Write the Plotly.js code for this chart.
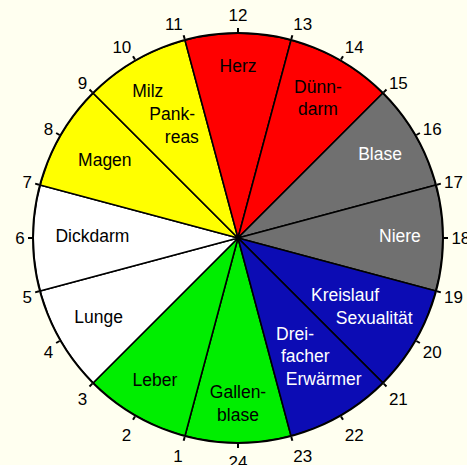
<!DOCTYPE html>
<html>
<head>
<meta charset="utf-8">
<script src="https://cdn.plot.ly/plotly-3.0.1.min.js"></script>
<style>html,body{margin:0;padding:0;background:#fffff0;}#chart{width:467px;height:465px;}</style>
</head>
<body>
<div id="chart"></div>
<script>
// ---- data ----
const organs = ['Gallen-<br>blase', 'Leber', 'Lunge', 'Dickdarm', 'Magen',
  'Milz\u00a0\u00a0\u00a0\u00a0\u00a0\u00a0\u00a0\u00a0<br>\u00a0\u00a0Pank-<br>\u00a0\u00a0\u00a0\u00a0\u00a0\u00a0reas',
  'Herz', 'Dünn-<br>darm', 'Blase', 'Niere',
  'Kreislauf\u00a0\u00a0\u00a0\u00a0\u00a0\u00a0<br>\u00a0\u00a0\u00a0\u00a0\u00a0\u00a0Sexualität',
  'Drei-<br>\u00a0facher<br>\u00a0\u00a0Erwärmer'];
const startHour = [23, 1, 3, 5, 7, 9, 11, 13, 15, 17, 19, 21];
const durationHours = [2, 2, 2, 2, 2, 2, 2, 2, 2, 2, 2, 2];
const hourTickLabels = ['24','1','2','3','4','5','6','7','8','9','10','11',
  '12','13','14','15','16','17','18','19','20','21','22','23'];

// ---- styles / label placement ----
const sliceColors = ['#00ee00','#00ee00','#ffffff','#ffffff','#ffff00','#ffff00',
  '#ff0000','#ff0000','#707070','#707070','#0c0cb4','#0c0cb4'];
const textColors = ['#000','#000','#000','#000','#000','#000',
  '#000','#000','#fff','#fff','#fff','#fff'];
const labelRadius = [0.815, 0.81, 0.785, 0.71, 0.75, 0.69, 0.83, 0.78, 0.80, 0.79, 0.685, 0.614];
const labelThetaShift = [0, 0, 0, 0, 0, 0, 0, 0, 0, 0, 0, 12.4];
const labelAnchor = ['middle center','middle center','middle center','middle center',
  'middle center','middle center','middle center','middle center','middle center',
  'middle center','middle center','middle right'];

const DEG_PER_HOUR = 15;
const centers = startHour.map((s, i) => ((s + durationHours[i] / 2) * DEG_PER_HOUR) % 360);
const widths = durationHours.map(d => d * DEG_PER_HOUR);

const slices = {
  type: 'barpolar',
  r: organs.map(() => 1),
  theta: centers,
  width: widths,
  marker: { color: sliceColors, line: { color: '#000', width: 1.6 } },
  hoverinfo: 'skip',
  showlegend: false
};

const labels = {
  type: 'scatterpolar',
  mode: 'text',
  r: labelRadius,
  theta: centers.map((c, i) => c + labelThetaShift[i]),
  text: organs,
  textposition: labelAnchor,
  textfont: { family: 'Liberation Sans, Arial, sans-serif', size: 17.5, color: textColors },
  hoverinfo: 'skip',
  showlegend: false
};

const tickVals = hourTickLabels.map((_, i) => i * DEG_PER_HOUR);

const layout = {
  width: 467, height: 465,
  margin: { l: 0, r: 0, t: 0, b: 0 },
  paper_bgcolor: '#fffff0',
  font: { family: 'Liberation Sans, Arial, sans-serif', size: 17, color: '#000' },
  showlegend: false,
  polar: {
    domain: { x: [33 / 467, 443 / 467], y: [1 - 443 / 465, 1 - 33 / 465] },
    bgcolor: '#ffffff',
    bargap: 0,
    radialaxis: { range: [0, 1], visible: false, showgrid: false },
    angularaxis: {
      direction: 'clockwise',
      rotation: 270,
      tickmode: 'array',
      tickvals: tickVals,
      ticktext: hourTickLabels,
      ticks: 'outside',
      ticklen: 4,
      tickwidth: 2,
      tickcolor: '#000',
      showline: true,
      linecolor: '#000',
      linewidth: 2,
      showgrid: false,
      tickfont: { family: 'Liberation Sans, Arial, sans-serif', size: 17, color: '#000' }
    }
  }
};

Plotly.newPlot('chart', [slices, labels], layout, { displayModeBar: false, staticPlot: true });
</script>
</body>
</html>
